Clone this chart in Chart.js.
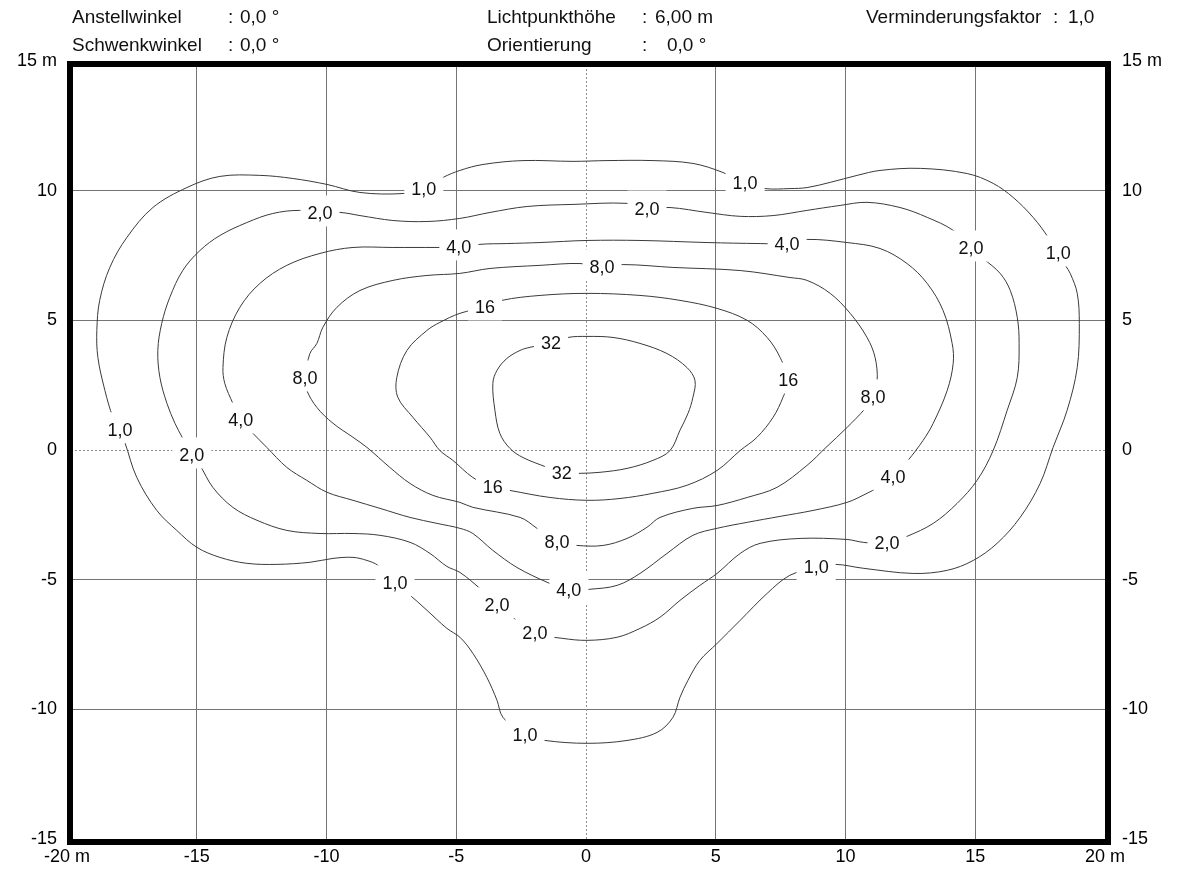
<!DOCTYPE html>
<html>
<head>
<meta charset="utf-8">
<title>Isolux diagram</title>
<script src="https://cdn.jsdelivr.net/npm/chart.js"></script>
<style>
    body { margin: 0; background: #fff; }
    .wrap { width: 1179px; height: 870px; }
</style>
</head>
<body>
<div class="wrap"><canvas id="luxChart"></canvas></div>
<script>
// contour levels and their printed labels
const levels = ['1,0', '2,0', '4,0', '8,0', '16', '32'];

// isolines in metres [x, y], each one a closed loop
const lux1 = [[-6.25,10.08],[-5.51,10.51],[-4.86,10.78],[-3.97,11.01],[-2.43,11.16],[-0.50,11.13],[0.81,11.16],[2.58,11.16],[4.12,11.05],[5.28,10.70],[6.13,10.28],[6.90,10.08],[7.86,10.08],[8.52,10.12],[9.41,10.32],[10.45,10.59],[11.33,10.78],[12.88,10.86],[14.69,10.66],[15.69,10.28],[16.46,9.74],[17.23,8.97],[17.81,8.20],[18.16,7.58],[18.47,7.12],[18.66,6.81],[18.93,6.04],[19.01,4.88],[18.93,3.18],[18.54,1.53],[18.00,0.10],[17.50,-1.29],[16.73,-2.60],[15.84,-3.60],[14.92,-4.26],[13.92,-4.64],[12.61,-4.76],[10.68,-4.56],[9.60,-4.41],[8.91,-4.53],[7.86,-4.83],[6.98,-5.53],[5.94,-6.57],[5.05,-7.46],[4.39,-8.11],[3.93,-8.88],[3.62,-9.54],[3.35,-10.31],[2.74,-10.89],[1.58,-11.20],[0.04,-11.31],[-1.58,-11.20],[-2.35,-11.00],[-3.20,-10.31],[-3.43,-9.65],[-3.82,-8.77],[-4.36,-7.84],[-4.86,-7.22],[-5.36,-6.88],[-6.13,-6.18],[-6.86,-5.53],[-7.36,-5.14],[-8.02,-4.45],[-8.44,-4.26],[-8.98,-4.14],[-9.75,-4.18],[-10.64,-4.33],[-11.91,-4.41],[-13.07,-4.37],[-14.11,-4.14],[-15.00,-3.75],[-15.77,-3.10],[-16.54,-2.33],[-17.31,-1.06],[-17.77,0.29],[-17.96,0.76],[-18.23,1.26],[-18.54,2.30],[-18.81,3.57],[-18.85,4.61],[-18.74,5.77],[-18.35,7.04],[-17.69,8.20],[-16.69,9.35],[-15.38,10.12],[-14.11,10.55],[-12.57,10.59],[-11.30,10.47],[-9.98,10.24],[-8.71,9.93],[-7.05,9.89]];
const lux2 = [[-10.25,9.12],[-9.48,9.16],[-8.71,9.04],[-7.44,8.85],[-6.13,8.81],[-4.86,8.93],[-3.70,9.16],[-2.27,9.39],[-0.50,9.47],[1.58,9.51],[2.35,9.31],[3.24,9.35],[4.66,9.16],[5.94,9.01],[7.21,9.04],[8.52,9.24],[9.79,9.43],[10.83,9.55],[12.10,9.35],[13.15,8.97],[14.15,8.47],[14.88,7.77],[15.30,7.39],[15.96,6.81],[16.35,6.15],[16.62,5.11],[16.69,4.11],[16.62,2.80],[16.23,1.53],[15.69,-0.02],[15.07,-1.17],[14.30,-2.06],[13.38,-2.83],[12.37,-3.33],[11.60,-3.60],[10.68,-3.56],[10.06,-3.45],[8.25,-3.41],[6.71,-3.60],[5.94,-3.99],[5.05,-4.76],[4.39,-5.22],[3.62,-5.80],[2.85,-6.45],[2.08,-6.88],[1.20,-7.22],[0.04,-7.34],[-0.93,-7.26],[-1.97,-7.07],[-2.66,-6.57],[-3.43,-5.99],[-4.09,-5.34],[-4.86,-4.72],[-5.36,-4.49],[-6.01,-3.99],[-6.78,-3.56],[-7.94,-3.29],[-8.98,-3.22],[-10.25,-3.22],[-11.53,-3.10],[-12.68,-2.71],[-13.61,-2.21],[-14.38,-1.44],[-14.88,-0.59],[-15.19,-0.21],[-15.54,0.45],[-15.84,1.03],[-16.15,1.80],[-16.42,2.80],[-16.50,3.84],[-16.35,4.88],[-16.04,5.88],[-15.54,6.92],[-14.88,7.69],[-14.11,8.27],[-13.07,8.77],[-12.07,9.12],[-11.03,9.24]];
const lux4 = [[-4.90,7.81],[-4.09,7.93],[-3.05,7.96],[-1.77,8.00],[0.04,8.08],[2.08,8.08],[4.66,8.00],[6.71,7.96],[7.75,7.96],[8.52,8.12],[10.06,8.00],[11.33,7.77],[12.37,7.19],[13.15,6.42],[13.76,5.38],[14.11,4.11],[14.15,3.34],[13.92,2.30],[13.38,1.03],[12.99,0.37],[12.41,-0.40],[11.83,-1.06],[11.26,-1.44],[10.83,-1.67],[10.06,-2.02],[8.75,-2.33],[7.48,-2.56],[6.21,-2.79],[5.05,-3.02],[4.12,-3.29],[3.12,-3.99],[2.08,-4.76],[1.20,-5.22],[0.15,-5.37],[-0.66,-5.41],[-1.50,-5.10],[-2.66,-4.53],[-3.59,-3.87],[-4.36,-3.22],[-4.86,-3.02],[-5.74,-2.83],[-6.78,-2.60],[-7.94,-2.25],[-8.98,-1.94],[-9.98,-1.63],[-10.76,-1.17],[-11.53,-0.67],[-12.30,0.10],[-12.95,0.76],[-13.30,1.14],[-13.61,1.80],[-13.92,2.57],[-13.99,3.18],[-13.84,4.34],[-13.34,5.50],[-12.57,6.42],[-11.53,7.12],[-10.25,7.58],[-8.98,7.81],[-7.44,7.81],[-5.74,7.81]];
const lux8 = [[0.62,7.04],[1.43,7.15],[3.35,7.04],[5.94,6.92],[7.86,6.65],[8.52,6.54],[9.41,6.04],[10.18,5.27],[10.83,4.34],[11.14,3.57],[11.22,2.68],[11.06,2.03],[10.76,1.60],[10.06,0.87],[9.25,0.10],[8.52,-0.59],[7.36,-1.44],[6.21,-1.83],[5.05,-2.14],[4.12,-2.25],[2.85,-2.60],[2.35,-2.98],[1.58,-3.41],[0.66,-3.68],[-0.35,-3.68],[-1.12,-3.56],[-1.89,-3.02],[-2.54,-2.60],[-4.36,-2.21],[-4.86,-2.02],[-5.90,-1.75],[-6.78,-1.29],[-7.56,-0.67],[-8.44,0.10],[-8.98,0.49],[-9.75,1.03],[-10.37,1.64],[-10.76,2.30],[-10.83,2.76],[-10.64,3.72],[-10.37,4.11],[-10.14,4.73],[-9.60,5.50],[-8.71,6.15],[-7.44,6.54],[-6.13,6.73],[-4.86,6.81],[-3.70,7.00],[-1.77,7.12],[-0.23,7.19]];
const lux16 = [[-3.89,5.50],[-3.24,5.77],[-1.77,5.96],[0.04,6.04],[2.08,5.96],[3.62,5.77],[5.05,5.46],[6.21,5.00],[6.98,4.34],[7.48,3.57],[7.79,2.68],[7.59,2.03],[7.21,1.26],[6.59,0.49],[5.94,-0.02],[5.05,-0.79],[3.89,-1.36],[2.58,-1.67],[1.31,-1.87],[0.04,-1.94],[-1.39,-1.83],[-2.93,-1.56],[-3.59,-1.44],[-4.36,-1.06],[-5.13,-0.40],[-5.63,-0.02],[-6.01,0.49],[-6.67,1.26],[-7.25,2.03],[-7.29,2.80],[-6.90,3.84],[-6.13,4.61],[-5.63,4.92],[-4.86,5.27]];
const lux32 = [[-1.35,4.11],[-0.69,4.34],[0.04,4.38],[1.04,4.34],[2.08,4.11],[3.12,3.72],[3.89,3.18],[4.20,2.68],[4.12,2.03],[3.93,1.41],[3.62,0.76],[3.24,-0.02],[2.58,-0.40],[1.58,-0.71],[0.54,-0.86],[-0.23,-0.90],[-0.93,-0.90],[-1.50,-0.67],[-2.43,-0.29],[-2.93,0.06],[-3.32,0.64],[-3.51,1.53],[-3.59,2.57],[-3.43,3.07],[-3.05,3.53],[-2.54,3.84],[-2.16,3.96]];

// where each level value is written on its line
const lab1 = [[-6.25,10.08],[6.13,10.28],[18.20,7.58],[8.87,-4.53],[-2.35,-11.00],[-7.36,-5.14],[-17.96,0.76]];
const lab2 = [[-10.25,9.12],[2.35,9.31],[14.84,7.77],[-15.19,-0.21],[11.60,-3.60],[-3.43,-5.99],[-1.97,-7.07]];
const lab4 = [[-4.90,7.81],[7.75,7.96],[11.83,-1.06],[-0.66,-5.41],[-13.30,1.14]];
const lab8 = [[0.62,7.04],[-10.83,2.76],[11.06,2.03],[-1.12,-3.56]];
const lab16 = [[-3.89,5.50],[7.79,2.68],[-3.59,-1.44]];
const lab32 = [[-1.35,4.11],[-0.93,-0.90]];

// axis ranges and ticks
const xRange = [-20, 20];
const yRange = [-15, 15];
const tickStep = 5;
const xUnitTicks = [-20, 20];
const yUnitTicks = [15];

// header block
const headLeft = [['Anstellwinkel', '0,0 °'], ['Schwenkwinkel', '0,0 °']];
const headMid = [['Lichtpunkthöhe', '6,00 m'], ['Orientierung', '0,0 °']];
const headRight = ['Verminderungsfaktor', '1,0'];

const lines = [lux1, lux2, lux4, lux8, lux16, lux32];
const labels = [lab1, lab2, lab4, lab8, lab16, lab32];

const FONT = '"Liberation Sans", Arial, sans-serif';
Chart.defaults.font.family = FONT;
Chart.defaults.font.size = 18;
Chart.defaults.color = '#000';

const datasets = lines.map((pts, i) => ({
    label: levels[i],
    data: pts.concat([pts[0]]).map(p => ({ x: p[0], y: p[1] })),
    showLine: true,
    fill: false,
    borderColor: '#3a3a3a',
    borderWidth: 1,
    pointRadius: 0,
    tension: 0.35
}));

const gridColor = c => (c.tick && c.tick.value === 0) ? 'rgba(0,0,0,0)' : '#747474';

const decor = {
    id: 'decor',
    beforeDatasetsDraw(chart) {
        // dotted axes through the luminaire
        const ctx = chart.ctx, a = chart.chartArea;
        const x0 = Math.round(chart.scales.x.getPixelForValue(0)) + 0.5;
        const y0 = Math.round(chart.scales.y.getPixelForValue(0)) + 0.5;
        ctx.save();
        ctx.strokeStyle = '#8c8c8c';
        ctx.lineWidth = 1;
        ctx.setLineDash([2, 2]);
        ctx.beginPath();
        ctx.moveTo(x0, a.top); ctx.lineTo(x0, a.bottom);
        ctx.moveTo(a.left, y0); ctx.lineTo(a.right, y0);
        ctx.stroke();
        ctx.restore();
    },
    afterDatasetsDraw(chart) {
        const ctx = chart.ctx;
        ctx.save();
        ctx.font = '18px ' + FONT;
        ctx.textAlign = 'center';
        ctx.textBaseline = 'middle';
        labels.forEach((list, i) => {
            list.forEach(p => {
                const px = chart.scales.x.getPixelForValue(p[0]);
                const py = chart.scales.y.getPixelForValue(p[1]);
                const w = ctx.measureText(levels[i]).width;
                ctx.fillStyle = '#fff';
                ctx.fillRect(px - w / 2 - 7, py - 18, w + 14, 31);
                ctx.fillStyle = '#111';
                ctx.fillText(levels[i], px, py + 1);
            });
        });
        ctx.restore();
    },
    afterDraw(chart) {
        const ctx = chart.ctx, a = chart.chartArea;
        ctx.save();
        ctx.strokeStyle = '#000';
        ctx.lineWidth = 6;
        ctx.strokeRect(a.left + 3, a.top + 3, a.right - a.left, a.bottom - a.top);

        ctx.fillStyle = '#111';
        ctx.font = '19px ' + FONT;
        ctx.textBaseline = 'middle';
        ctx.textAlign = 'left';
        const rowY = [18, 46];
        headLeft.forEach((r, i) => {
            ctx.fillText(r[0], 72, rowY[i]);
            ctx.fillText(':', 228, rowY[i]);
            ctx.fillText(r[1], 240, rowY[i]);
        });
        headMid.forEach((r, i) => {
            ctx.fillText(r[0], 487, rowY[i]);
            ctx.fillText(':', 642, rowY[i]);
            ctx.fillText(r[1], i === 0 ? 655 : 667, rowY[i]);
        });
        ctx.fillText(headRight[0], 866, rowY[0]);
        ctx.fillText(':', 1053, rowY[0]);
        ctx.fillText(headRight[1], 1068, rowY[0]);
        ctx.restore();
    }
};

const ctx = document.getElementById('luxChart').getContext('2d');
const luxChart = new Chart(ctx, {
    type: 'scatter',
    data: { datasets: datasets },
    options: {
        responsive: true,
        maintainAspectRatio: false,
        animation: false,
        layout: { padding: { top: 61, left: 0, right: 0, bottom: 0 } },
        plugins: { legend: { display: false }, tooltip: { enabled: false } },
        scales: {
            x: {
                type: 'linear', min: xRange[0], max: xRange[1],
                ticks: {
                    stepSize: tickStep, padding: 7, maxRotation: 0, autoSkip: false,
                    callback: v => xUnitTicks.includes(v) ? v + ' m' : String(v)
                },
                grid: { color: gridColor, lineWidth: 1, drawTicks: false },
                border: { display: false },
                afterFit: s => { s.height = 31; }
            },
            y: {
                type: 'linear', position: 'left', min: yRange[0], max: yRange[1],
                ticks: {
                    stepSize: tickStep, padding: 10,
                    callback: v => yUnitTicks.includes(v) ? v + ' m' : String(v)
                },
                grid: { color: gridColor, lineWidth: 1, drawTicks: false },
                border: { display: false },
                afterFit: s => { s.width = 67; }
            },
            y2: {
                type: 'linear', position: 'right', min: yRange[0], max: yRange[1],
                ticks: {
                    stepSize: tickStep, padding: 17,
                    callback: v => yUnitTicks.includes(v) ? v + ' m' : String(v)
                },
                grid: { display: false, drawTicks: false },
                border: { display: false },
                afterFit: s => { s.width = 74; }
            }
        }
    },
    plugins: [decor]
});
</script>
</body>
</html>
